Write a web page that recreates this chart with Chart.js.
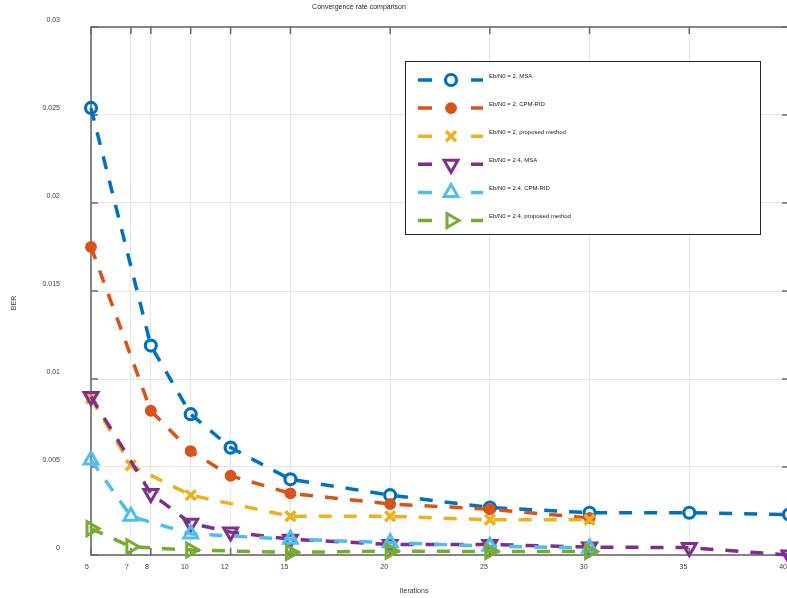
<!DOCTYPE html>
<html lang="en">
<head>
  <meta charset="UTF-8" />
  <title>Convergence rate comparison</title>
  <script src="https://cdn.jsdelivr.net/npm/chart.js"></script>
  <style>
    html, body {
      margin: 0;
      padding: 0;
      background: #fff;
      overflow: hidden;
    }
    #wrap {
      width: 800px;
      height: 598px;
    }
  </style>
</head>
<body>
  <div id="wrap"><canvas id="berChart" width="800" height="598"></canvas></div>

  <script>
    // iteration counts used by the different runs
    const itersMsa = [5, 8, 10, 12, 15, 20, 25, 30, 35, 40];
    const itersCpm = [5, 8, 10, 12, 15, 20, 25, 30];
    const itersShort = [5, 7, 10, 15, 20, 25, 30];

    // BER values
    const msa20 = [0.0254, 0.0119, 0.0080, 0.0061, 0.0043, 0.0034, 0.0027, 0.0024, 0.0024, 0.0023];
    const cpm20 = [0.0175, 0.0082, 0.0059, 0.0045, 0.0035, 0.0029, 0.0026, 0.0021];
    const prop20 = [0.0089, 0.0051, 0.0034, 0.0022, 0.0022, 0.0020, 0.0020];
    const msa24 = [0.0090, 0.0035, 0.0018, 0.0013, 0.0009, 0.0006, 0.0006, 0.00045, 0.00042, 0.0000];
    const cpm24 = [0.0054, 0.0022, 0.0012, 0.0009, 0.0007, 0.0005, 0.0004];
    const prop24 = [0.0015, 0.00047, 0.00028, 0.00015, 0.00022, 0.0002, 0.0002];

    const seriesNames = [
      'Eb/N0 = 2, MSA',
      'Eb/N0 = 2, CPM-RID',
      'Eb/N0 = 2, proposed method',
      'Eb/N0 = 2.4, MSA',
      'Eb/N0 = 2.4, CPM-RID',
      'Eb/N0 = 2.4, proposed method'
    ];
    const seriesIters = [itersMsa, itersCpm, itersShort, itersMsa, itersShort, itersShort];
    const seriesValues = [msa20, cpm20, prop20, msa24, cpm24, prop24];

    // axis ticks
    const xTicks = [5, 7, 8, 10, 12, 15, 20, 25, 30, 35, 40];
    const yTicks = [0, 0.005, 0.01, 0.015, 0.02, 0.025, 0.03];
    const yTickLabels = ['0', '0.005', '0.01', '0.015', '0.02', '0.025', '0.03'];

    const colors = ['#0072BD', '#D95319', '#EDB120', '#7E2F8E', '#4DBEEE', '#77AC30'];
    const markers = [
      { style: 'circle', rot: 0, r: 5.5, bw: 3.2, fill: 'rgba(255,255,255,0)' },
      { style: 'circle', rot: 0, r: 5.2, bw: 1.5, fill: null },
      { style: 'crossRot', rot: 0, r: 7, bw: 3.5, fill: null },
      { style: 'triangle', rot: 180, r: 8, bw: 3, fill: 'rgba(255,255,255,0)' },
      { style: 'triangle', rot: 0, r: 8, bw: 3, fill: 'rgba(255,255,255,0)' },
      { style: 'triangle', rot: 90, r: 8, bw: 3, fill: 'rgba(255,255,255,0)' }
    ];

    const FONT = '"Liberation Sans", Arial, sans-serif';
    const AXIS_COLOR = '#6b6b6b';

    const datasets = seriesNames.map((name, i) => ({
      label: name,
      data: seriesIters[i].map((x, j) => ({ x: x, y: seriesValues[i][j] })),
      borderColor: colors[i],
      borderWidth: 3.5,
      borderDash: [13, 12],
      tension: 0,
      fill: false,
      clip: false,
      order: seriesNames.length - 1 - i,
      pointStyle: markers[i].style,
      pointRotation: markers[i].rot,
      pointRadius: markers[i].r,
      pointHoverRadius: markers[i].r,
      pointBorderWidth: markers[i].bw,
      pointBorderColor: colors[i],
      pointBackgroundColor: markers[i].fill || colors[i]
    }));

    function drawMarker(ctx, ds, x, y) {
      ctx.save();
      ctx.setLineDash([]);
      ctx.strokeStyle = ds.pointBorderColor;
      ctx.fillStyle = ds.pointBackgroundColor;
      ctx.lineWidth = ds.pointBorderWidth;
      Chart.helpers.drawPoint(ctx, {
        pointStyle: ds.pointStyle,
        rotation: ds.pointRotation,
        radius: ds.pointRadius,
        borderWidth: ds.pointBorderWidth
      }, x, y);
      ctx.restore();
    }

    const figureDecor = {
      id: 'figureDecor',
      beforeDatasetsDraw(chart) {
        const { ctx, chartArea: a, scales } = chart;
        ctx.save();
        ctx.strokeStyle = AXIS_COLOR;
        ctx.lineWidth = 1.6;
        ctx.strokeRect(a.left, a.top, a.right - a.left, a.bottom - a.top);
        // tick marks pointing inward, MATLAB style
        ctx.beginPath();
        xTicks.forEach(v => {
          const px = scales.x.getPixelForValue(v);
          ctx.moveTo(px, a.bottom); ctx.lineTo(px, a.bottom - 7);
          ctx.moveTo(px, a.top); ctx.lineTo(px, a.top + 7);
        });
        yTicks.forEach(v => {
          const py = scales.y.getPixelForValue(v);
          ctx.moveTo(a.left, py); ctx.lineTo(a.left + 7, py);
          ctx.moveTo(a.right, py); ctx.lineTo(a.right - 7, py);
        });
        ctx.stroke();
        ctx.restore();
      },
      afterDraw(chart) {
        const ctx = chart.ctx;
        ctx.save();
        ctx.fillStyle = '#262626';
        ctx.textAlign = 'center';
        ctx.textBaseline = 'middle';
        ctx.font = '7px ' + FONT;
        ctx.fillText('Convergence rate comparison', 359, 7.5);
        ctx.fillStyle = '#404040';
        ctx.fillText('Iterations', 414, 591);
        ctx.translate(14, 303);
        ctx.rotate(-Math.PI / 2);
        ctx.fillText('BER', 0, 0);
        ctx.restore();

        // legend box
        ctx.save();
        ctx.fillStyle = '#fff';
        ctx.fillRect(405.5, 61.5, 355, 173);
        ctx.strokeStyle = '#262626';
        ctx.lineWidth = 1;
        ctx.strokeRect(405.5, 61.5, 355, 173);
        chart.data.datasets.forEach((ds, i) => {
          const y = 80 + 28.1 * i;
          ctx.strokeStyle = ds.borderColor;
          ctx.lineWidth = ds.borderWidth;
          ctx.setLineDash([]);
          ctx.beginPath();
          ctx.moveTo(418, y); ctx.lineTo(432, y);
          ctx.moveTo(471, y); ctx.lineTo(483, y);
          ctx.stroke();
          drawMarker(ctx, ds, 451, y);
          ctx.fillStyle = '#1a1a1a';
          ctx.font = '6px ' + FONT;
          ctx.textAlign = 'left';
          ctx.textBaseline = 'middle';
          ctx.fillText(ds.label, 489, y - 4);
        });
        ctx.restore();
      }
    };

    const ctx = document.getElementById('berChart').getContext('2d');
    new Chart(ctx, {
      type: 'line',
      data: { datasets: datasets },
      plugins: [figureDecor],
      options: {
        responsive: false,
        animation: false,
        devicePixelRatio: 1,
        layout: { padding: { top: 27, right: 9, left: 0, bottom: 0 } },
        plugins: {
          legend: { display: false },
          title: { display: false },
          tooltip: { enabled: false }
        },
        scales: {
          x: {
            type: 'linear',
            min: 5,
            max: 40,
            afterBuildTicks: s => { s.ticks = xTicks.map(v => ({ value: v })); },
            afterFit: s => { s.height = 43; s.paddingLeft = 0; s.paddingRight = 0; },
            grid: { color: '#e6e6e6', lineWidth: 1, drawTicks: false },
            border: { display: false },
            ticks: {
              autoSkip: false,
              maxRotation: 0,
              align: 'end',
              labelOffset: -2,
              padding: 8,
              color: '#404040',
              font: { family: FONT, size: 7 },
              callback: v => String(v)
            }
          },
          y: {
            min: 0,
            max: 0.03,
            afterBuildTicks: s => { s.ticks = yTicks.map(v => ({ value: v })); },
            afterFit: s => { s.width = 91; s.paddingTop = 0; s.paddingBottom = 0; },
            grid: { color: '#e6e6e6', lineWidth: 1, drawTicks: false },
            border: { display: false },
            ticks: {
              padding: 31,
              labelOffset: -7,
              color: '#404040',
              font: { family: FONT, size: 7 },
              callback: (v, i) => yTickLabels[i]
            }
          }
        }
      }
    });
  </script>
</body>
</html>
